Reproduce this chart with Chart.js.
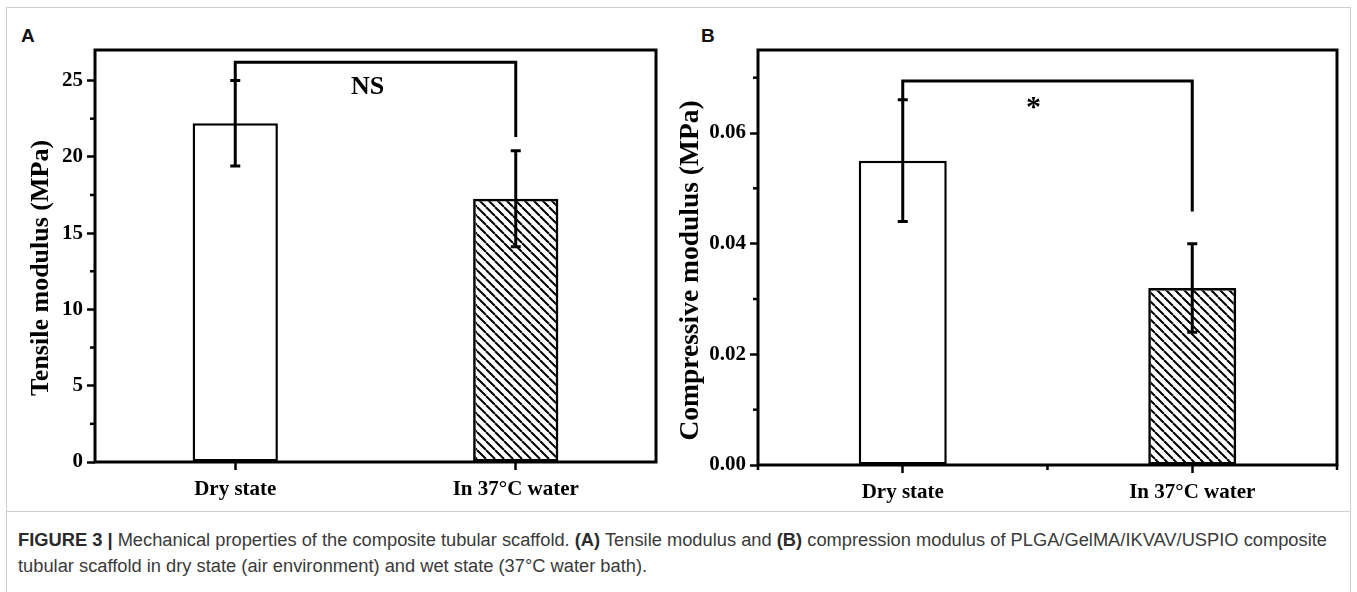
<!DOCTYPE html>
<html><head><meta charset="utf-8">
<script src="https://cdn.jsdelivr.net/npm/chart.js@4.4.1/dist/chart.umd.min.js"></script>
<style>
html,body{margin:0;padding:0;background:#fff;}
body{width:1357px;height:592px;position:relative;overflow:hidden;}
#frame{position:absolute;left:6px;top:7px;width:1345px;height:640px;border:1px solid #cfcfcf;box-sizing:border-box;}
#sep{position:absolute;left:6px;top:511px;width:1345px;height:1px;background:#cfcfcf;}
.plabel{position:absolute;font:bold 19px "Liberation Sans",Arial,sans-serif;color:#111;line-height:1;}
canvas{position:absolute;top:0;}
.cap{position:absolute;left:18px;white-space:nowrap;color:#3a3a3a;font-family:"Liberation Sans Narrow","Liberation Sans",Arial,sans-serif;font-size:18px;line-height:20px;transform-origin:0 0;}
.cap b{font-weight:bold;color:#2a2a2a;}
</style></head><body>
<div id="frame"></div><div id="sep"></div>
<div class="plabel" style="left:21px;top:26px">A</div>
<div class="plabel" style="left:701px;top:26px">B</div>
<canvas id="cA" width="680" height="512" style="left:0"></canvas>
<canvas id="cB" width="697" height="512" style="left:660px"></canvas>
<div class="cap" id="cap1" style="top:530px"><b>FIGURE 3 |</b> Mechanical properties of the composite tubular scaffold. <b>(A)</b> Tensile modulus and <b>(B)</b> compression modulus of PLGA/GelMA/IKVAV/USPIO composite</div>
<div class="cap" id="cap2" style="top:556px">tubular scaffold in dry state (air environment) and wet state (37°C water bath).</div>
<script>
// ---- data ----
const categories = ['Dry state', 'In 37°C water'];
const tensileMean = [22.2, 17.25];
const tensileSD = [2.8, 3.15];
const compressiveMean = [0.055, 0.032];
const compressiveSD = [0.011, 0.008];
const tensileTicks = [0, 5, 10, 15, 20, 25];
const tensileTickLabels = ['0', '5', '10', '15', '20', '25'];
const tensileMinorTicks = [2.5, 7.5, 12.5, 17.5, 22.5];
const compressiveTicks = [0, 0.02, 0.04, 0.06];
const compressiveTickLabels = ['0.00', '0.02', '0.04', '0.06'];
const compressiveMinorTicks = [0.01, 0.03, 0.05, 0.07];
const compressiveMinorX = [-0.5, 0.5, 1.5];
const tensileBracket = [25.0, 26.19, 21.3];
const compressiveBracket = [0.0661, 0.0694, 0.0458];
const tensileSig = ['NS', 0.472, 24.68];
const compressiveSig = ['*', 0.452, 0.0658];

const SERIF = '"Liberation Serif", "Times New Roman", serif';

function hatch(ctx){
  const s = 9, c = document.createElement('canvas');
  c.width = s; c.height = s;
  const g = c.getContext('2d');
  g.strokeStyle = '#000'; g.lineWidth = 2;
  g.beginPath();
  for (const k of [-s, 0, s]) { g.moveTo(k, 0); g.lineTo(k + s, s); }
  g.stroke();
  return ctx.createPattern(c, 'repeat');
}

const overlay = {
  id: 'overlay',
  afterDatasetsDraw(chart, args, o){
    const {ctx, chartArea: a, scales: {x, y}} = chart;
    ctx.save();
    ctx.strokeStyle = '#000'; ctx.fillStyle = '#000';
    ctx.lineWidth = 3; ctx.lineCap = 'butt'; ctx.lineJoin = 'miter';
    o.mean.forEach((m, i) => {
      const px = x.getPixelForValue(i);
      const hi = y.getPixelForValue(m + o.sd[i]), lo = y.getPixelForValue(m - o.sd[i]);
      ctx.beginPath(); ctx.moveTo(px, hi); ctx.lineTo(px, lo); ctx.stroke();
      ctx.beginPath();
      ctx.moveTo(px - 5, hi); ctx.lineTo(px + 5, hi);
      ctx.moveTo(px - 5, lo); ctx.lineTo(px + 5, lo);
      ctx.stroke();
    });
    const [b0, b1, b2] = o.bracket;
    const x0 = x.getPixelForValue(0), x1 = x.getPixelForValue(1);
    ctx.beginPath();
    ctx.moveTo(x0, y.getPixelForValue(b0));
    ctx.lineTo(x0, y.getPixelForValue(b1));
    ctx.lineTo(x1, y.getPixelForValue(b1));
    ctx.lineTo(x1, y.getPixelForValue(b2));
    ctx.stroke();
    const [t, tx, ty] = o.sig;
    ctx.font = 'bold ' + o.sigSize + 'px ' + SERIF;
    ctx.textAlign = 'center'; ctx.textBaseline = 'alphabetic';
    ctx.fillText(t, x.getPixelForValue(tx), y.getPixelForValue(ty) + o.sigSize * o.sigShift);
    ctx.lineWidth = 3;
    ctx.strokeRect(a.left, a.top, a.right - a.left, a.bottom - a.top);
    ctx.lineWidth = 2.5;
    o.minorY.forEach(v => {
      const py = y.getPixelForValue(v);
      ctx.beginPath(); ctx.moveTo(a.left, py); ctx.lineTo(a.left - 5, py); ctx.stroke();
    });
    (o.minorX || []).forEach(v => {
      const px = x.getPixelForValue(v);
      ctx.beginPath(); ctx.moveTo(px, a.bottom); ctx.lineTo(px, a.bottom + 5); ctx.stroke();
    });
    // y-axis title
    ctx.translate(o.titleX, (a.top + a.bottom) / 2 + o.titleDy);
    ctx.rotate(-Math.PI / 2);
    ctx.font = 'bold ' + o.titleSize + 'px ' + SERIF;
    ctx.textAlign = 'center'; ctx.textBaseline = 'middle';
    ctx.fillText(o.title, 0, 0);
    ctx.restore();
  }
};

function build(id, cfg){
  const canvas = document.getElementById(id);
  const ctx = canvas.getContext('2d');
  return new Chart(ctx, {
    type: 'bar',
    data: {
      labels: categories,
      datasets: [{
        data: cfg.mean,
        backgroundColor: ['#ffffff', hatch(ctx)],
        borderColor: '#000', borderWidth: 2.5, borderSkipped: false,
        categoryPercentage: 1, barPercentage: 0.304
      }]
    },
    plugins: [overlay],
    options: {
      responsive: false, animation: false, events: [],
      layout: {padding: {top: cfg.top, right: cfg.right, left: 0, bottom: 0}},
      plugins: {
        legend: {display: false}, tooltip: {enabled: false},
        overlay: {mean: cfg.mean, sd: cfg.sd, bracket: cfg.bracket, sig: cfg.sig, sigSize: cfg.sigSize, sigShift: cfg.sigShift,
                  minorY: cfg.minorY, minorX: cfg.minorX, title: cfg.title, titleSize: cfg.titleSize, titleX: cfg.titleX, titleDy: cfg.titleDy}
      },
      scales: {
        x: {
          type: 'category', offset: true,
          border: {display: false},
          grid: {drawOnChartArea: false, drawTicks: true, tickLength: 8, tickWidth: 2.5, tickColor: '#000', color: '#000', offset: false},
          ticks: {color: '#000', font: {family: SERIF, weight: 'bold', size: 21}, padding: 7, maxRotation: 0, autoSkip: false},
          afterFit(s){ s.height = cfg.xh; }
        },
        y: {
          min: 0, max: cfg.max,
          border: {display: false},
          grid: {drawOnChartArea: false, drawTicks: true, tickLength: 8, tickWidth: 2.5, tickColor: '#000', color: '#000'},
          afterBuildTicks(s){ s.ticks = cfg.ticks.map(v => ({value: v})); },
          ticks: {color: '#000', font: {family: SERIF, weight: 'bold', size: 21}, padding: 4, callback: (v, i) => cfg.tickLabels[i]},
          title: {display: false},
          afterFit(s){ s.width = cfg.yw; }
        }
      }
    }
  });
}

build('cA', {
  mean: tensileMean, sd: tensileSD, bracket: tensileBracket, sig: tensileSig, sigSize: 26, sigShift: 0.33,
  minorY: tensileMinorTicks, minorX: null, ticks: tensileTicks, tickLabels: tensileTickLabels,
  max: 27, title: 'Tensile modulus (MPa)', titleSize: 26, titleX: 41, titleDy: 12,
  top: 50, right: 24, yw: 95, xh: 50
});
build('cB', {
  mean: compressiveMean, sd: compressiveSD, bracket: compressiveBracket, sig: compressiveSig, sigSize: 30, sigShift: 0.49,
  minorY: compressiveMinorTicks, minorX: compressiveMinorX, ticks: compressiveTicks, tickLabels: compressiveTickLabels,
  max: 0.075, title: 'Compressive modulus (MPa)', titleSize: 27.5, titleX: 31, titleDy: 13,
  top: 50, right: 20, yw: 98, xh: 47
});

function fitCaption(){
  const c1 = document.getElementById('cap1'), c2 = document.getElementById('cap2');
  const w = c1.getBoundingClientRect().width;
  const k = 1309 / w;
  c1.style.transform = 'scaleX(' + k + ')';
  c2.style.transform = 'scaleX(' + k + ')';
}
fitCaption();
</script>
</body></html>
